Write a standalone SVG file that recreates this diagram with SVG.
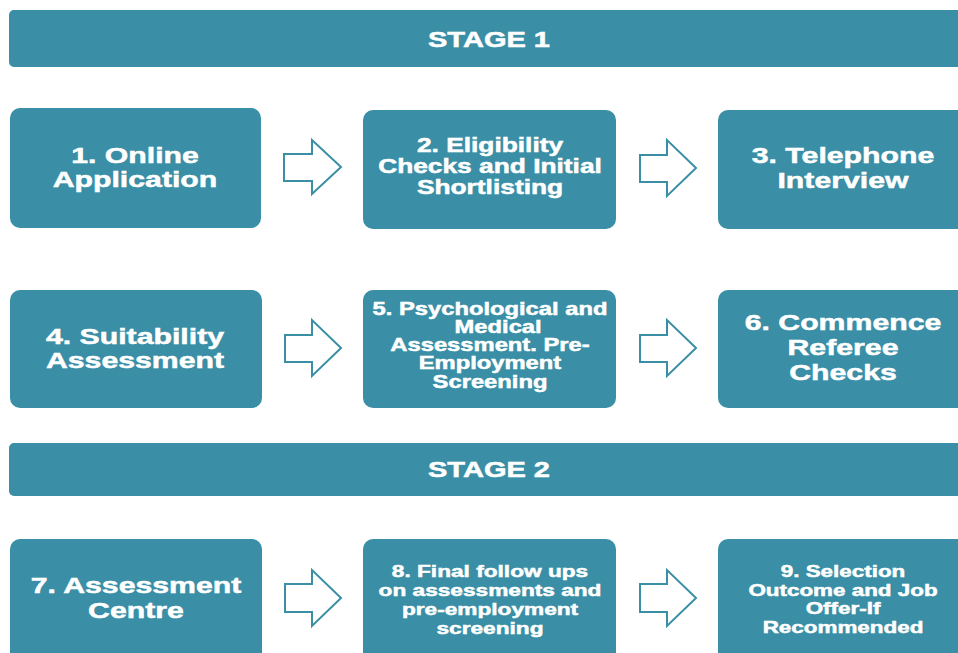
<svg xmlns="http://www.w3.org/2000/svg" width="958" height="653" viewBox="0 0 958 653">
<style>
.bar{fill:#3a8fa6}
.box{fill:#3a8fa6}
.t{font-family:"Liberation Sans",Arial,sans-serif;font-weight:bold;fill:#ffffff;stroke:#ffffff;stroke-width:0.5;text-anchor:middle}
.arr{fill:#ffffff;stroke:#3a8fa6;stroke-width:2;stroke-linejoin:miter}
</style>
<rect width="958" height="653" fill="#ffffff"/>
<g id="stage1">
<rect class="bar" x="9" y="10" width="970" height="57" rx="5"/>
<g transform="translate(489 0) scale(1.35 1)"><text class="t" x="0" y="47" font-size="21.5">STAGE 1</text></g>
</g>
<g id="stage2">
<rect class="bar" x="9" y="443" width="970" height="53" rx="5"/>
<g transform="translate(489 0) scale(1.35 1)"><text class="t" x="0" y="477" font-size="21.5">STAGE 2</text></g>
</g>
<g id="n1">
<rect class="box" x="10" y="108" width="251" height="120" rx="10"/>
<g transform="translate(135 0) scale(1.35 1)"><text class="t" font-size="22.4"><tspan x="0" y="163">1. Online</tspan><tspan x="0" y="187">Application</tspan></text></g>
</g>
<g id="n2">
<rect class="box" x="363" y="110" width="253" height="119" rx="10"/>
<g transform="translate(490 0) scale(1.35 1)"><text class="t" font-size="19.5"><tspan x="0" y="152">2. Eligibility</tspan><tspan x="0" y="173">Checks and Initial</tspan><tspan x="0" y="194">Shortlisting</tspan></text></g>
</g>
<g id="n3">
<rect class="box" x="718" y="110" width="260" height="119" rx="10"/>
<g transform="translate(843 0) scale(1.35 1)"><text class="t" font-size="22.4"><tspan x="0" y="163">3. Telephone</tspan><tspan x="0" y="188">Interview</tspan></text></g>
</g>
<g id="n4">
<rect class="box" x="10" y="290" width="252" height="118" rx="10"/>
<g transform="translate(135 0) scale(1.35 1)"><text class="t" font-size="22.4"><tspan x="0" y="344">4. Suitability</tspan><tspan x="0" y="368">Assessment</tspan></text></g>
</g>
<g id="n5">
<rect class="box" x="363" y="290" width="253" height="118" rx="10"/>
<g transform="translate(490 0) scale(1.35 1)"><text class="t" font-size="17.6"><tspan x="0" y="315">5. Psychological and</tspan><tspan x="6" y="333">Medical</tspan><tspan x="0" y="351">Assessment. Pre-</tspan><tspan x="0" y="369">Employment</tspan><tspan x="0" y="388">Screening</tspan></text></g>
</g>
<g id="n6">
<rect class="box" x="718" y="290" width="260" height="118" rx="10"/>
<g transform="translate(843 0) scale(1.35 1)"><text class="t" font-size="22.4"><tspan x="0" y="330">6. Commence</tspan><tspan x="0" y="355">Referee</tspan><tspan x="0" y="380">Checks</tspan></text></g>
</g>
<g id="n7">
<rect class="box" x="10" y="539" width="252" height="130" rx="10"/>
<g transform="translate(136 0) scale(1.35 1)"><text class="t" font-size="22.4"><tspan x="0" y="593">7. Assessment</tspan><tspan x="0" y="618">Centre</tspan></text></g>
</g>
<g id="n8">
<rect class="box" x="363" y="539" width="253" height="130" rx="10"/>
<g transform="translate(490 0) scale(1.35 1)"><text class="t" font-size="16.8"><tspan x="0" y="577">8. Final follow ups</tspan><tspan x="0" y="596">on assessments and</tspan><tspan x="0" y="615">pre-employment</tspan><tspan x="0" y="634">screening</tspan></text></g>
</g>
<g id="n9">
<rect class="box" x="718" y="539" width="260" height="130" rx="10"/>
<g transform="translate(843 0) scale(1.35 1)"><text class="t" font-size="16.6"><tspan x="0" y="577">9. Selection</tspan><tspan x="0" y="596">Outcome and Job</tspan><tspan x="0" y="614">Offer-If</tspan><tspan x="0" y="633">Recommended</tspan></text></g>
</g>
<g id="connectors">
<path class="arr" d="M284 154 H312 V140 L341 167 L312 194 V181 H284 Z"/>
<path class="arr" d="M640 155 H667 V140 L696 168 L667 196 V182 H640 Z"/>
<path class="arr" d="M285 335 H312 V320 L341 348 L312 376 V362 H285 Z"/>
<path class="arr" d="M640 335 H667 V320 L696 348 L667 376 V362 H640 Z"/>
<path class="arr" d="M285 584 H312 V570 L341 598 L312 626 V612 H285 Z"/>
<path class="arr" d="M640 584 H667 V570 L696 598 L667 626 V612 H640 Z"/>
</g>
</svg>
